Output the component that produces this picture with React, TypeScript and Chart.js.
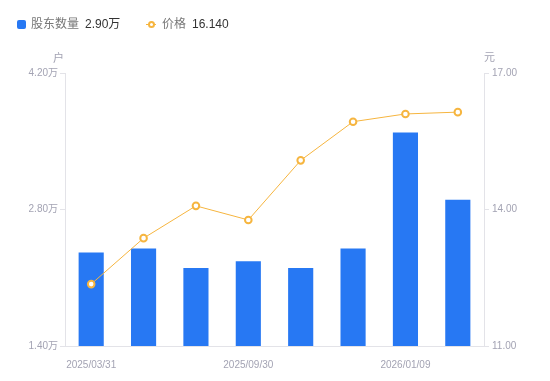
import React, { useEffect, useRef } from "react";
import { Chart, registerables } from "chart.js";

Chart.register(...registerables);

const categories = ["2025/03/31", "", "", "2025/09/30", "", "", "2026/01/09", ""];
const holders = [2.36, 2.4, 2.2, 2.27, 2.2, 2.4, 3.59, 2.9]; // 万户
const prices = [12.36, 13.37, 14.08, 13.77, 15.08, 15.93, 16.1, 16.14];
const leftTicks = [1.4, 2.8, 4.2];
const rightTicks = [11, 14, 17];
const legendHolders = "2.90万";
const legendPrice = "16.140";

const FONT = 'Arial, "Liberation Sans", "Noto Sans CJK SC", sans-serif';
const BLUE = "#2778f3";
const ORANGE = "#f6b53f";
const TICK = "#a3a3b3";
const AXIS = "#e3e3e8";

export default function App() {
  const ref = useRef<HTMLCanvasElement>(null);
  useEffect(() => {
    document.body.style.margin = "0";
    const chart = new Chart(ref.current!, {
      type: "bar",
      data: {
        labels: categories,
        datasets: [
          {
            type: "line",
            label: "价格",
            data: prices,
            yAxisID: "yR",
            borderColor: ORANGE,
            borderWidth: 1,
            pointRadius: 3.3,
            pointBorderWidth: 2,
            pointBackgroundColor: "#ffffff",
            pointBorderColor: ORANGE,
            tension: 0,
            order: 0,
          } as any,
          {
            type: "bar",
            label: "股东数量",
            data: holders,
            yAxisID: "yL",
            backgroundColor: BLUE,
            categoryPercentage: 1,
            barPercentage: 0.48,
            order: 1,
          },
        ],
      },
      options: {
        animation: false,
        responsive: false,
        layout: { padding: { top: 73, left: 0, right: 0, bottom: 0 } },
        plugins: { legend: { display: false }, tooltip: { enabled: false } },
        scales: {
          x: {
            grid: { display: false },
            border: { display: true, color: AXIS },
            ticks: {
              autoSkip: false,
              maxRotation: 0,
              padding: 5,
              color: TICK,
              font: { family: FONT, size: 10 },
            },
            afterFit: (s: any) => {
              s.height = 35;
            },
          },
          yL: {
            position: "left",
            min: 1.4,
            max: 4.2,
            grid: { drawOnChartArea: false, drawTicks: true, tickLength: 5, color: AXIS },
            border: { display: true, color: AXIS },
            ticks: {
              padding: 2,
              color: TICK,
              font: { family: FONT, size: 10 },
              callback: (v: any) => Number(v).toFixed(2) + "万",
            },
            afterBuildTicks: (s: any) => {
              s.ticks = leftTicks.map((v) => ({ value: v }));
            },
            afterFit: (s: any) => {
              s.width = 65;
            },
          },
          yR: {
            position: "right",
            min: 11,
            max: 17,
            grid: { drawOnChartArea: false, drawTicks: true, tickLength: 5, color: AXIS },
            border: { display: true, color: AXIS },
            ticks: {
              padding: 3,
              color: TICK,
              font: { family: FONT, size: 10 },
              callback: (v: any) => Number(v).toFixed(2),
            },
            afterBuildTicks: (s: any) => {
              s.ticks = rightTicks.map((v) => ({ value: v }));
            },
            afterFit: (s: any) => {
              s.width = 66;
            },
          },
        },
      },
    });
    return () => chart.destroy();
  }, []);

  const txt: React.CSSProperties = { position: "absolute", fontFamily: FONT, whiteSpace: "nowrap", lineHeight: "16px" };
  return (
    <div style={{ position: "fixed", left: 0, top: 0, width: 550, height: 381, background: "#fff" }}>
      <canvas ref={ref} width={550} height={381} style={{ position: "absolute", left: 0, top: 0 }} />
      <div style={{ position: "absolute", left: 17, top: 20, width: 9, height: 9, background: BLUE, borderRadius: 2 }} />
      <div style={{ ...txt, left: 31, top: 16, fontSize: 12, color: "#777" }}>股东数量</div>
      <div style={{ ...txt, left: 85, top: 16, fontSize: 12, color: "#333" }}>{legendHolders}</div>
      <div style={{ position: "absolute", left: 146, top: 23.5, width: 10, height: 1, background: ORANGE }} />
      <div style={{ position: "absolute", left: 147.5, top: 20.5, width: 3, height: 3, borderRadius: "50%", border: `2px solid ${ORANGE}`, background: "#fff" }} />
      <div style={{ ...txt, left: 162, top: 16, fontSize: 12, color: "#777" }}>价格</div>
      <div style={{ ...txt, left: 192, top: 16, fontSize: 12, color: "#333" }}>{legendPrice}</div>
      <div style={{ ...txt, left: 53, top: 50, fontSize: 11, color: TICK }}>户</div>
      <div style={{ ...txt, left: 484, top: 49, fontSize: 11, color: TICK }}>元</div>
    </div>
  );
}
